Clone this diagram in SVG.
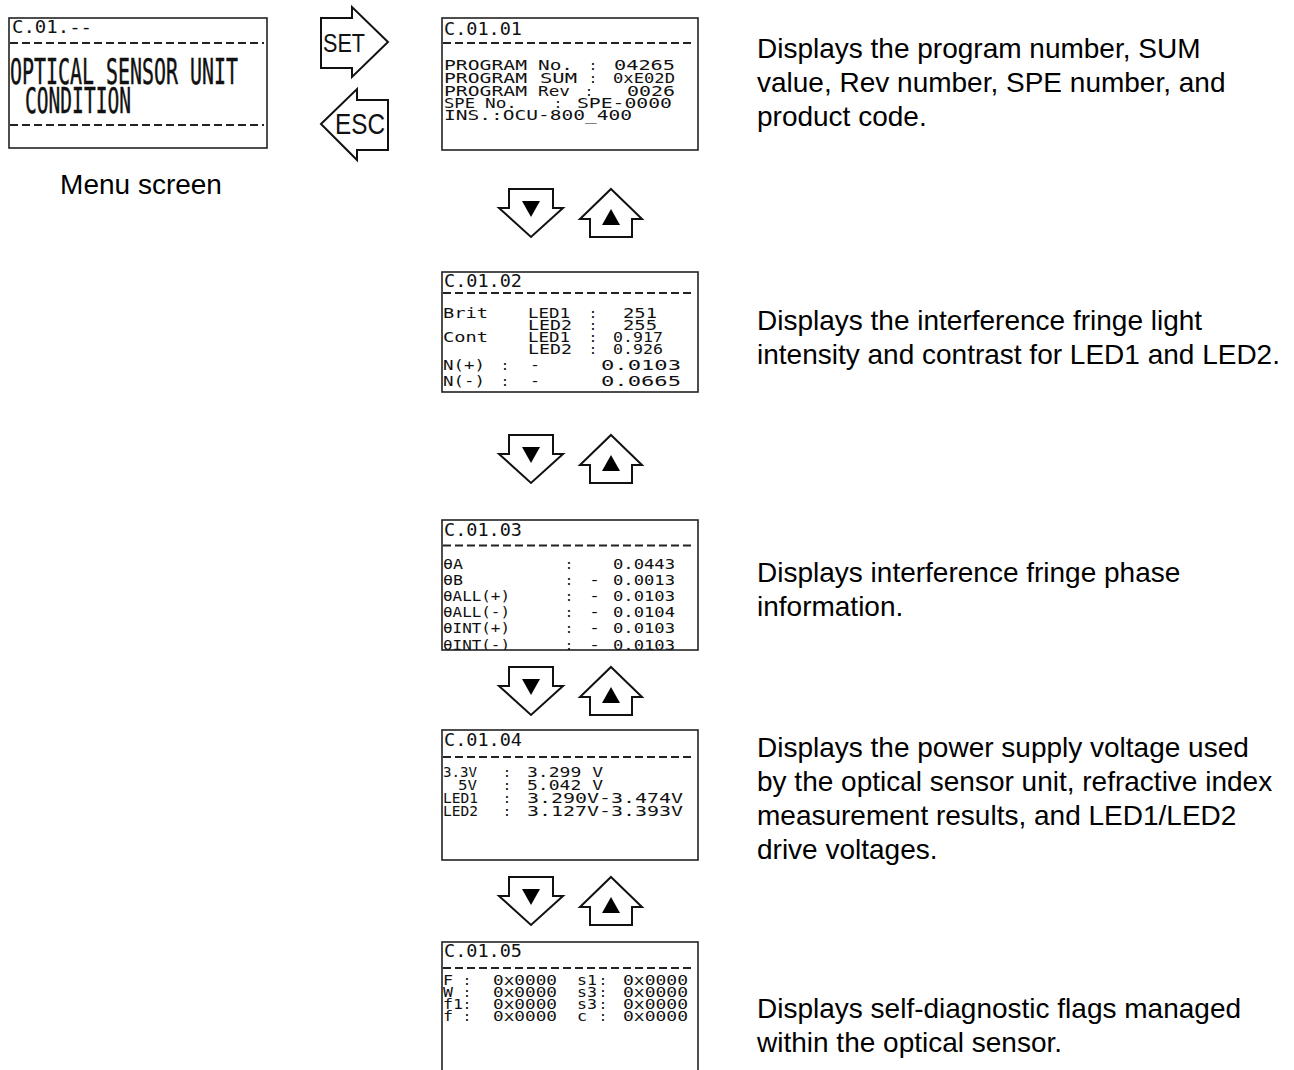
<svg xmlns="http://www.w3.org/2000/svg" width="1294" height="1070" viewBox="0 0 1294 1070">
<style>
.scr{fill:#fff;stroke:#222;stroke-width:1.6}
.dash{stroke:#222;stroke-width:2;stroke-dasharray:8 4}
.lcd{font-family:"DejaVu Sans Mono","Liberation Mono",monospace;font-size:14px;fill:#111}
.ttl{font-size:17px}
.big{font-size:36px;stroke:#111;stroke-width:0.5}
.desc{font-family:"Liberation Sans",Arial,sans-serif;font-size:28px;fill:#000}
.arr{fill:#fff;stroke:#111;stroke-width:2;stroke-linejoin:miter}
.tri{fill:#000}
.btn{font-family:"Liberation Sans",Arial,sans-serif;fill:#111}
</style>
<defs>
<clipPath id="c2"><rect x="442" y="272" width="256" height="120"/></clipPath>
<clipPath id="c3"><rect x="442" y="520" width="256" height="130"/></clipPath>
<g id="downArrow"><path class="arr" d="M509,0 H553 V19 H563 L531,48 L499,19 H509 Z"/><path class="tri" d="M522,12 H540 L531,28 Z"/></g>
<g id="upArrow"><path class="arr" d="M611,0 L642,30 H632 V48 H590 V30 H580 Z"/><path class="tri" d="M611,20 L620,36 H602 Z"/></g>
</defs>

<g id="menu-screen">
<rect class="scr" x="9" y="18" width="258" height="130"/>
<text class="lcd ttl" x="12" y="33" textLength="80" lengthAdjust="spacingAndGlyphs">C.01.--</text>
<line class="dash" x1="10" y1="43" x2="264" y2="43"/>
<text class="lcd big" x="10" y="84" textLength="228" lengthAdjust="spacingAndGlyphs">OPTICAL SENSOR UNIT</text>
<text class="lcd big" x="25" y="113" textLength="106" lengthAdjust="spacingAndGlyphs">CONDITION</text>
<line class="dash" x1="10" y1="125" x2="264" y2="125"/>
</g>
<g id="menu-label"><text class="desc" x="141" y="194" text-anchor="middle">Menu screen</text></g>

<g id="connectors">
<g id="btn-set"><polygon class="arr" points="321,18 352,18 352,7 388,42 352,77 352,68 321,68"/><text class="btn" x="323" y="52" font-size="26" textLength="42" lengthAdjust="spacingAndGlyphs">SET</text></g>
<g id="btn-esc"><polygon class="arr" points="321,124 357,89 357,100 388,100 388,150 357,150 357,160"/><text class="btn" x="335" y="134" font-size="29" textLength="50" lengthAdjust="spacingAndGlyphs">ESC</text></g>
<g id="nav-1"><use href="#downArrow" y="189"/><use href="#upArrow" y="189"/></g>
<g id="nav-2"><use href="#downArrow" y="435"/><use href="#upArrow" y="435"/></g>
<g id="nav-3"><use href="#downArrow" y="667"/><use href="#upArrow" y="667"/></g>
<g id="nav-4"><use href="#downArrow" y="877"/><use href="#upArrow" y="877"/></g>
</g>

<g id="screen-c0101">
<rect class="scr" x="442" y="18" width="256" height="132"/>
<text class="lcd ttl" x="444" y="35" textLength="78" lengthAdjust="spacingAndGlyphs">C.01.01</text>
<line class="dash" x1="443" y1="43" x2="695" y2="43"/>
<g class="lcd">
<text x="444" y="70" textLength="83" lengthAdjust="spacingAndGlyphs">PROGRAM</text><text x="538" y="70" textLength="35" lengthAdjust="spacingAndGlyphs">No.</text><text x="593" y="70" text-anchor="middle">:</text><text x="614" y="70" textLength="61" lengthAdjust="spacingAndGlyphs">04265</text>
<text x="444" y="83" textLength="83" lengthAdjust="spacingAndGlyphs">PROGRAM</text><text x="540" y="83" textLength="37" lengthAdjust="spacingAndGlyphs">SUM</text><text x="593" y="83" text-anchor="middle">:</text><text x="613" y="83" textLength="62" lengthAdjust="spacingAndGlyphs">0xE02D</text>
<text x="444" y="96" textLength="83" lengthAdjust="spacingAndGlyphs">PROGRAM</text><text x="538" y="96" textLength="32" lengthAdjust="spacingAndGlyphs">Rev</text><text x="589" y="96" text-anchor="middle">:</text><text x="627" y="96" textLength="48" lengthAdjust="spacingAndGlyphs">0026</text>
<text x="444" y="108" textLength="31" lengthAdjust="spacingAndGlyphs">SPE</text><text x="485" y="108" textLength="32" lengthAdjust="spacingAndGlyphs">No.</text><text x="558" y="108" text-anchor="middle">:</text><text x="577" y="108" textLength="95" lengthAdjust="spacingAndGlyphs">SPE-0000</text>
<text x="444" y="120" textLength="188" lengthAdjust="spacingAndGlyphs">INS.:OCU-800_400</text>
</g>
</g>
<g id="desc-c0101">
<text class="desc" x="757" y="58">Displays the program number, SUM</text>
<text class="desc" x="757" y="92">value, Rev number, SPE number, and</text>
<text class="desc" x="757" y="126">product code.</text>
</g>

<g id="screen-c0102">
<rect class="scr" x="442" y="272" width="256" height="120"/>
<text class="lcd ttl" x="444" y="287" textLength="78" lengthAdjust="spacingAndGlyphs">C.01.02</text>
<line class="dash" x1="443" y1="293" x2="695" y2="293"/>
<g class="lcd" clip-path="url(#c2)">
<text x="443" y="318" textLength="45" lengthAdjust="spacingAndGlyphs">Brit</text><text x="528" y="318" textLength="42" lengthAdjust="spacingAndGlyphs">LED1</text><text x="593" y="318" text-anchor="middle">:</text><text x="623" y="318" textLength="34" lengthAdjust="spacingAndGlyphs">251</text>
<text x="528" y="330" textLength="44" lengthAdjust="spacingAndGlyphs">LED2</text><text x="593" y="330" text-anchor="middle">:</text><text x="623" y="330" textLength="34" lengthAdjust="spacingAndGlyphs">255</text>
<text x="443" y="342" textLength="45" lengthAdjust="spacingAndGlyphs">Cont</text><text x="528" y="342" textLength="42" lengthAdjust="spacingAndGlyphs">LED1</text><text x="593" y="342" text-anchor="middle">:</text><text x="613" y="342" textLength="50" lengthAdjust="spacingAndGlyphs">0.917</text>
<text x="528" y="354" textLength="44" lengthAdjust="spacingAndGlyphs">LED2</text><text x="593" y="354" text-anchor="middle">:</text><text x="613" y="354" textLength="50" lengthAdjust="spacingAndGlyphs">0.926</text>
<text x="443" y="370" textLength="42" lengthAdjust="spacingAndGlyphs">N(+)</text><text x="505" y="370" text-anchor="middle">:</text><text x="530" y="370" textLength="10" lengthAdjust="spacingAndGlyphs">-</text><text x="601" y="370" textLength="80" lengthAdjust="spacingAndGlyphs">0.0103</text>
<text x="443" y="386" textLength="42" lengthAdjust="spacingAndGlyphs">N(-)</text><text x="505" y="386" text-anchor="middle">:</text><text x="530" y="386" textLength="10" lengthAdjust="spacingAndGlyphs">-</text><text x="601" y="386" textLength="80" lengthAdjust="spacingAndGlyphs">0.0665</text>
</g>
</g>
<g id="desc-c0102">
<text class="desc" x="757" y="330">Displays the interference fringe light</text>
<text class="desc" x="757" y="364">intensity and contrast for LED1 and LED2.</text>
</g>

<g id="screen-c0103">
<rect class="scr" x="442" y="520" width="256" height="130"/>
<text class="lcd ttl" x="444" y="536" textLength="78" lengthAdjust="spacingAndGlyphs">C.01.03</text>
<line class="dash" x1="443" y1="545.5" x2="695" y2="545.5"/>
<g class="lcd" clip-path="url(#c3)">
<text x="443" y="569" textLength="20" lengthAdjust="spacingAndGlyphs">θA</text><text x="569" y="569" text-anchor="middle">:</text><text x="613" y="569" textLength="62" lengthAdjust="spacingAndGlyphs">0.0443</text>
<text x="443" y="585" textLength="20" lengthAdjust="spacingAndGlyphs">θB</text><text x="569" y="585" text-anchor="middle">:</text><text x="589" y="585" textLength="11" lengthAdjust="spacingAndGlyphs">-</text><text x="613" y="585" textLength="62" lengthAdjust="spacingAndGlyphs">0.0013</text>
<text x="443" y="601" textLength="67" lengthAdjust="spacingAndGlyphs">θALL(+)</text><text x="569" y="601" text-anchor="middle">:</text><text x="589" y="601" textLength="11" lengthAdjust="spacingAndGlyphs">-</text><text x="613" y="601" textLength="62" lengthAdjust="spacingAndGlyphs">0.0103</text>
<text x="443" y="617" textLength="67" lengthAdjust="spacingAndGlyphs">θALL(-)</text><text x="569" y="617" text-anchor="middle">:</text><text x="589" y="617" textLength="11" lengthAdjust="spacingAndGlyphs">-</text><text x="613" y="617" textLength="62" lengthAdjust="spacingAndGlyphs">0.0104</text>
<text x="443" y="633" textLength="67" lengthAdjust="spacingAndGlyphs">θINT(+)</text><text x="569" y="633" text-anchor="middle">:</text><text x="589" y="633" textLength="11" lengthAdjust="spacingAndGlyphs">-</text><text x="613" y="633" textLength="62" lengthAdjust="spacingAndGlyphs">0.0103</text>
<text x="443" y="650" textLength="67" lengthAdjust="spacingAndGlyphs">θINT(-)</text><text x="569" y="650" text-anchor="middle">:</text><text x="589" y="650" textLength="11" lengthAdjust="spacingAndGlyphs">-</text><text x="613" y="650" textLength="62" lengthAdjust="spacingAndGlyphs">0.0103</text>
</g>
</g>
<g id="desc-c0103">
<text class="desc" x="757" y="582">Displays interference fringe phase</text>
<text class="desc" x="757" y="616">information.</text>
</g>

<g id="screen-c0104">
<rect class="scr" x="442" y="730" width="256" height="130"/>
<text class="lcd ttl" x="444" y="746" textLength="78" lengthAdjust="spacingAndGlyphs">C.01.04</text>
<line class="dash" x1="443" y1="757" x2="695" y2="757"/>
<g class="lcd">
<text x="443" y="777" textLength="34" lengthAdjust="spacingAndGlyphs">3.3V</text><text x="507" y="777" text-anchor="middle">:</text><text x="527" y="777" textLength="76" lengthAdjust="spacingAndGlyphs">3.299 V</text>
<text x="458" y="790" textLength="19" lengthAdjust="spacingAndGlyphs">5V</text><text x="507" y="790" text-anchor="middle">:</text><text x="527" y="790" textLength="76" lengthAdjust="spacingAndGlyphs">5.042 V</text>
<text x="443" y="803" textLength="35" lengthAdjust="spacingAndGlyphs">LED1</text><text x="507" y="803" text-anchor="middle">:</text><text x="527" y="803" textLength="156" lengthAdjust="spacingAndGlyphs">3.290V-3.474V</text>
<text x="443" y="816" textLength="35" lengthAdjust="spacingAndGlyphs">LED2</text><text x="507" y="816" text-anchor="middle">:</text><text x="527" y="816" textLength="156" lengthAdjust="spacingAndGlyphs">3.127V-3.393V</text>
</g>
</g>
<g id="desc-c0104">
<text class="desc" x="757" y="757">Displays the power supply voltage used</text>
<text class="desc" x="757" y="791">by the optical sensor unit, refractive index</text>
<text class="desc" x="757" y="825">measurement results, and LED1/LED2</text>
<text class="desc" x="757" y="859">drive voltages.</text>
</g>

<g id="screen-c0105">
<rect class="scr" x="442" y="942" width="256" height="140"/>
<text class="lcd ttl" x="444" y="957" textLength="78" lengthAdjust="spacingAndGlyphs">C.01.05</text>
<line class="dash" x1="443" y1="968" x2="695" y2="968"/>
<g class="lcd">
<text x="443" y="985" textLength="10" lengthAdjust="spacingAndGlyphs">F</text><text x="467" y="985" text-anchor="middle">:</text><text x="493" y="985" textLength="64" lengthAdjust="spacingAndGlyphs">0x0000</text><text x="577" y="985" textLength="20" lengthAdjust="spacingAndGlyphs">s1</text><text x="603" y="985" text-anchor="middle">:</text><text x="623" y="985" textLength="65" lengthAdjust="spacingAndGlyphs">0x0000</text>
<text x="443" y="997" textLength="10" lengthAdjust="spacingAndGlyphs">W</text><text x="467" y="997" text-anchor="middle">:</text><text x="493" y="997" textLength="64" lengthAdjust="spacingAndGlyphs">0x0000</text><text x="577" y="997" textLength="20" lengthAdjust="spacingAndGlyphs">s3</text><text x="603" y="997" text-anchor="middle">:</text><text x="623" y="997" textLength="65" lengthAdjust="spacingAndGlyphs">0x0000</text>
<text x="443" y="1009" textLength="20" lengthAdjust="spacingAndGlyphs">f1</text><text x="467" y="1009" text-anchor="middle">:</text><text x="493" y="1009" textLength="64" lengthAdjust="spacingAndGlyphs">0x0000</text><text x="577" y="1009" textLength="20" lengthAdjust="spacingAndGlyphs">s3</text><text x="603" y="1009" text-anchor="middle">:</text><text x="623" y="1009" textLength="65" lengthAdjust="spacingAndGlyphs">0x0000</text>
<text x="443" y="1021" textLength="10" lengthAdjust="spacingAndGlyphs">f</text><text x="467" y="1021" text-anchor="middle">:</text><text x="493" y="1021" textLength="64" lengthAdjust="spacingAndGlyphs">0x0000</text><text x="577" y="1021" textLength="10" lengthAdjust="spacingAndGlyphs">c</text><text x="603" y="1021" text-anchor="middle">:</text><text x="623" y="1021" textLength="65" lengthAdjust="spacingAndGlyphs">0x0000</text>
</g>
</g>
<g id="desc-c0105">
<text class="desc" x="757" y="1018">Displays self-diagnostic flags managed</text>
<text class="desc" x="757" y="1052">within the optical sensor.</text>
</g>
</svg>
